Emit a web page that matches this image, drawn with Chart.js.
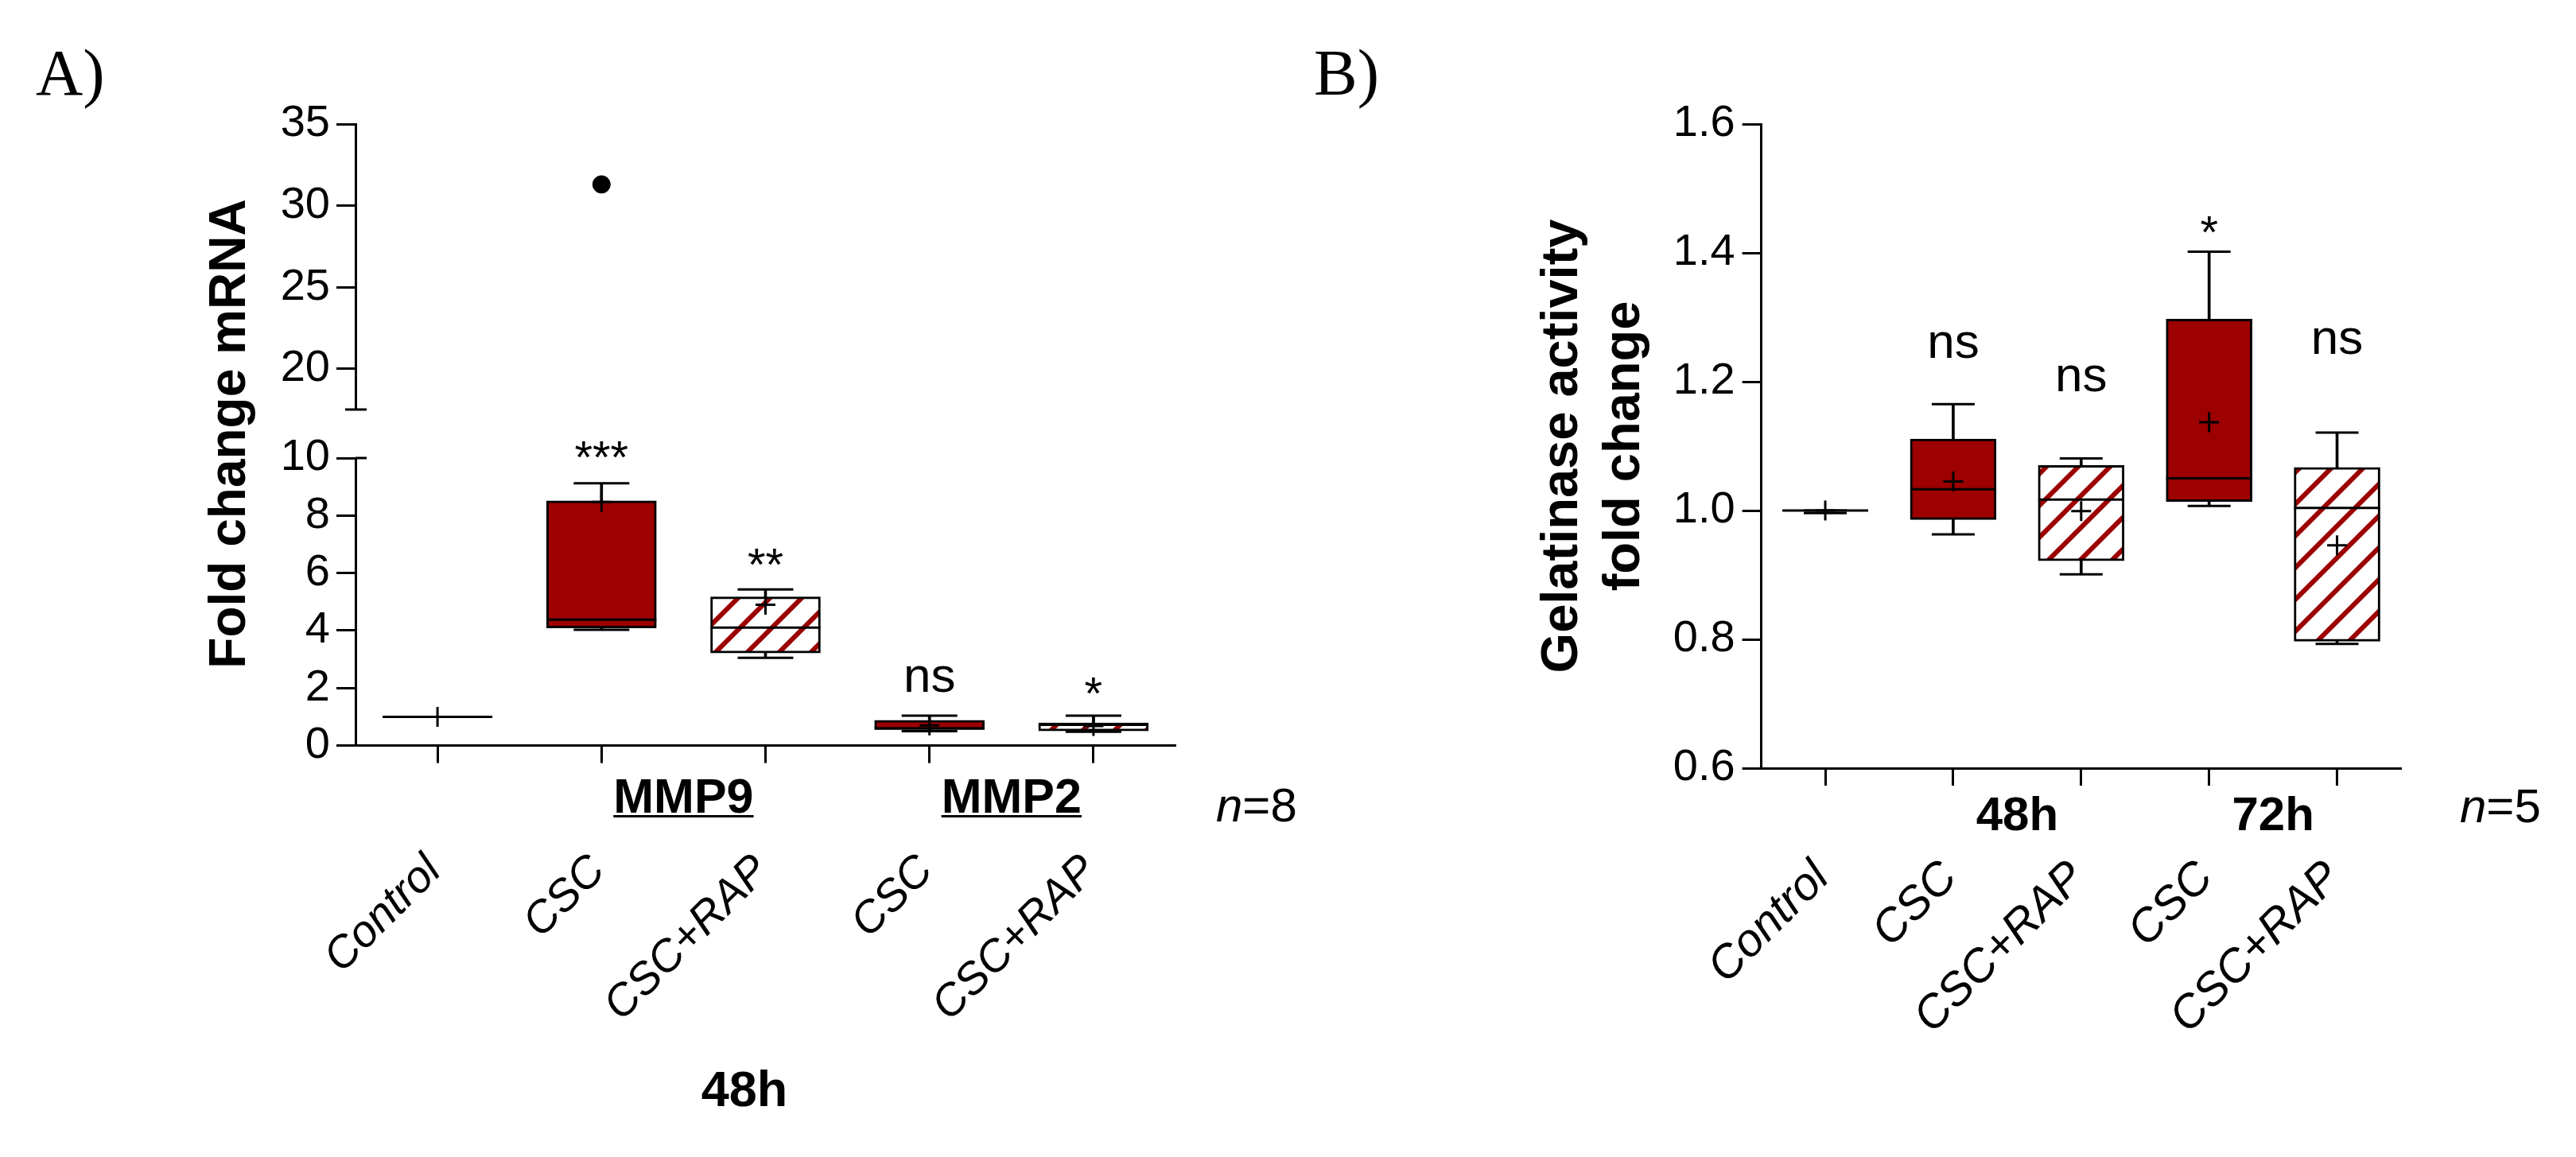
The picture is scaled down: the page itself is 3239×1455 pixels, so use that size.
<!DOCTYPE html>
<html>
<head>
<meta charset="utf-8">
<title>MMP9 / MMP2 expression and gelatinase activity</title>
<script src="https://cdn.jsdelivr.net/npm/chart.js@4.4.1/dist/chart.umd.min.js"></script>
<style>
  html, body { margin: 0; padding: 0; background: #fff; }
  #wrap { position: relative; width: 3239px; height: 1455px; }
  canvas { position: absolute; left: 0; top: 0; }
</style>
</head>
<body>
<div id="wrap">
  <canvas id="chartA" width="3239" height="1455"></canvas>
  <canvas id="chartB" width="3239" height="1455"></canvas>
</div>
<script>
// categories (same order in both panels)
const groupsA = ['Control', 'CSC', 'CSC+RAP', 'CSC', 'CSC+RAP'];
const groupsB = ['Control', 'CSC', 'CSC+RAP', 'CSC', 'CSC+RAP'];

// Panel A - fold change mRNA (MMP9: cols 1-2, MMP2: cols 3-4), n=8
const minA  = [1, 4.03, 3.05, 0.50, 0.48];
const q1A   = [1, 4.09, 3.22, 0.56, 0.51];
const medA  = [1, 4.38, 4.10, 0.60, 0.72];
const q3A   = [1, 8.51, 5.17, 0.88, 0.79];
const maxA  = [1, 9.12, 5.43, 1.04, 1.04];
const meanA = [1, 8.47, 4.90, 0.70, 0.68];
const outlierA = [null, 31.3, null, null, null];
const sigA  = ['', '***', '**', 'ns', '*'];
const sigAy = [null, 9.47, 5.74, 1.87, 1.26];
const lowTicksA = [0, 2, 4, 6, 8, 10];
const topTicksA = [20, 25, 30, 35];

// Panel B - gelatinase activity fold change (48h: cols 1-2, 72h: cols 3-4), n=5
const minB  = [0.996, 0.963, 0.901, 1.007, 0.793];
const q1B   = [1.0, 0.986, 0.922, 1.014, 0.797];
const medB  = [1.0, 1.033, 1.017, 1.050, 1.004];
const q3B   = [1.0, 1.111, 1.070, 1.297, 1.067];
const maxB  = [1.0, 1.165, 1.081, 1.402, 1.121];
const meanB = [1.0, 1.045, 0.999, 1.137, 0.946];
const sigB  = ['', 'ns', 'ns', '*', 'ns'];
const sigBy = [null, 1.237, 1.185, 1.407, 1.243];

const SANS = "'Liberation Sans', Arial, sans-serif";
const SERIF = "'Liberation Serif', 'Times New Roman', serif";
const RED = '#9c0000';

function hatch(canvasId) {
  const c = document.createElement('canvas');
  c.width = 40; c.height = 40;
  const g = c.getContext('2d');
  g.fillStyle = '#fff';
  g.fillRect(0, 0, 40, 40);
  g.strokeStyle = RED;
  g.lineWidth = 6;
  g.beginPath();
  g.moveTo(-5, 5); g.lineTo(5, -5);
  g.moveTo(0, 40); g.lineTo(40, 0);
  g.moveTo(35, 45); g.lineTo(45, 35);
  g.stroke();
  return document.getElementById(canvasId).getContext('2d').createPattern(c, 'repeat');
}

function pointSet(data, r, style, yID, order) {
  return {
    type: 'line', data, yAxisID: yID, showLine: false,
    pointStyle: style, pointRadius: r, pointBorderWidth: 3,
    pointBorderColor: '#000', pointBackgroundColor: '#000', order
  };
}

// box + whiskers built from floating bars, median / caps / mean from point styles
function boxSets(lo, q1, med, q3, hi, mean, fills, boxW, capW, yID) {
  return [
    { type: 'bar', data: lo.map((v, i) => [v, hi[i]]), yAxisID: yID,
      backgroundColor: '#000', borderWidth: 0, barThickness: 3, grouped: false, order: 4 },
    { type: 'bar', data: q1.map((v, i) => [v, q3[i]]), yAxisID: yID,
      backgroundColor: fills, borderColor: '#000', borderWidth: 3, borderSkipped: false,
      barThickness: boxW, grouped: false, order: 3 },
    pointSet(med, boxW / 2, 'line', yID, 2),
    pointSet(lo, capW / 2, 'line', yID, 2),
    pointSet(hi, capW / 2, 'line', yID, 2),
    pointSet(mean, 12.5, 'cross', yID, 1)
  ];
}

function xAxis(size, pad, height) {
  return {
    type: 'category', offset: true,
    grid: { display: true, drawOnChartArea: false, offset: false, tickLength: 22, tickWidth: 3, tickColor: '#000' },
    border: { display: true, color: '#000', width: 3 },
    ticks: { autoSkip: false, minRotation: 45, maxRotation: 45, labelOffset: -4, padding: pad,
      color: '#000', font: { family: SANS, size: size, style: 'italic' } },
    afterFit(s) { s.height = height; }
  };
}

function yStyle(width) {
  return {
    grid: { display: true, drawOnChartArea: false, tickLength: 24, tickWidth: 3, tickColor: '#000' },
    border: { display: true, color: '#000', width: 3 },
    afterFit(s) { s.width = width; }
  };
}

function text(ctx, s, x, y, font, align) {
  ctx.font = font;
  ctx.textAlign = align || 'center';
  ctx.textBaseline = 'alphabetic';
  ctx.fillText(s, x, y);
}

function underlined(ctx, s, x, y, font) {
  text(ctx, s, x, y, font, 'center');
  const w = ctx.measureText(s).width;
  ctx.fillRect(x - w / 2, y + 3, w, 3);
}

function nLabel(ctx, n, x, y) {
  ctx.font = 'italic 60px ' + SANS;
  ctx.textAlign = 'left';
  ctx.fillText('n', x, y);
  const w = ctx.measureText('n').width;
  ctx.font = '60px ' + SANS;
  ctx.fillText('=' + n, x + w, y);
}

function sigLabels(ctx, xs, ys, labels, levels) {
  labels.forEach((s, i) => {
    if (!s) return;
    const font = s === 'ns' ? '62px ' + SANS : '58px ' + SANS;
    text(ctx, s, xs.getPixelForValue(i), ys.getPixelForValue(levels[i]), font, 'center');
  });
}

const notesA = {
  id: 'notesA',
  afterDraw(chart) {
    const { ctx, scales, chartArea } = chart;
    const x = scales.x;
    ctx.save();
    ctx.fillStyle = '#000';
    ctx.strokeStyle = '#000';
    // marks of the broken axis
    ctx.lineWidth = 3;
    ctx.beginPath();
    ctx.moveTo(chartArea.left - 13, scales.yTop.bottom);
    ctx.lineTo(chartArea.left + 14, scales.yTop.bottom);
    ctx.moveTo(chartArea.left, scales.y.top);
    ctx.lineTo(chartArea.left + 14, scales.y.top);
    ctx.stroke();
    sigLabels(ctx, x, scales.y, sigA, sigAy);
    const bold = 'bold 61px ' + SANS;
    underlined(ctx, 'MMP9', (x.getPixelForValue(1) + x.getPixelForValue(2)) / 2, 1022, bold);
    underlined(ctx, 'MMP2', (x.getPixelForValue(3) + x.getPixelForValue(4)) / 2, 1022, bold);
    text(ctx, '48h', 936, 1391, 'bold 63px ' + SANS, 'center');
    nLabel(ctx, 8, 1529, 1033);
    text(ctx, 'A)', 45, 119, '82px ' + SERIF, 'left');
    ctx.restore();
  }
};

const notesB = {
  id: 'notesB',
  afterDraw(chart) {
    const { ctx, scales } = chart;
    const x = scales.x;
    ctx.save();
    ctx.fillStyle = '#000';
    sigLabels(ctx, x, scales.y, sigB, sigBy);
    const bold = 'bold 60px ' + SANS;
    text(ctx, '48h', (x.getPixelForValue(1) + x.getPixelForValue(2)) / 2, 1044, bold, 'center');
    text(ctx, '72h', (x.getPixelForValue(3) + x.getPixelForValue(4)) / 2, 1044, bold, 'center');
    nLabel(ctx, 5, 3093, 1034);
    text(ctx, 'B)', 1652, 119, '82px ' + SERIF, 'left');
    ctx.restore();
  }
};

const common = {
  responsive: false,
  animation: false,
  devicePixelRatio: 1,
  events: [],
  plugins: { legend: { display: false }, tooltip: { enabled: false } }
};

// Panel A
const hatchA = hatch('chartA');
const fillsA = [RED, RED, hatchA, RED, hatchA];
const tickFont = { family: SANS, size: 56 };

new Chart(document.getElementById('chartA'), {
  type: 'bar',
  data: {
    labels: groupsA,
    datasets: boxSets(minA, q1A, medA, q3A, maxA, meanA, fillsA, 138, 70, 'y').concat([
      { type: 'line', data: outlierA, yAxisID: 'yTop', showLine: false, pointStyle: 'circle',
        pointRadius: 11, pointBackgroundColor: '#000', pointBorderColor: '#000', order: 0 }
    ])
  },
  options: Object.assign({}, common, {
    layout: { padding: { left: 0, right: 1761, top: 156, bottom: 17.4 } },
    scales: {
      x: xAxis(56, 103, 500),
      yTop: Object.assign(yStyle(447), {
        type: 'linear', position: 'left', stack: 'left', stackWeight: 359, weight: 3,
        min: 17.5, max: 35,
        afterBuildTicks(s) { s.ticks = topTicksA.map(v => ({ value: v })); },
        ticks: { padding: 8, color: '#000', font: tickFont, autoSkip: false }
      }),
      gap: {
        type: 'linear', position: 'left', stack: 'left', stackWeight: 61, weight: 2,
        grid: { display: false }, border: { display: false }, ticks: { display: false },
        title: { display: true, text: 'Fold change mRNA', color: '#000',
          font: { family: SANS, size: 64, weight: 'bold' }, padding: { top: 252, bottom: 0 } },
        afterFit(s) { s.width = 447; }
      },
      y: Object.assign(yStyle(447), {
        type: 'linear', position: 'left', stack: 'left', stackWeight: 361.6, weight: 1,
        min: 0, max: 10,
        afterBuildTicks(s) { s.ticks = lowTicksA.map(v => ({ value: v })); },
        ticks: { padding: 8, color: '#000', font: tickFont, autoSkip: false }
      })
    }
  }),
  plugins: [notesA]
});

// Panel B
const hatchB = hatch('chartB');
const fillsB = [RED, RED, hatchB, RED, hatchB];

new Chart(document.getElementById('chartB'), {
  type: 'bar',
  data: {
    labels: groupsB,
    datasets: boxSets(minB, q1B, medB, q3B, maxB, meanB, fillsB, 108, 54, 'y')
  },
  options: Object.assign({}, common, {
    layout: { padding: { left: 1700, right: 220, top: 156, bottom: 9 } },
    scales: {
      x: xAxis(58, 82, 480),
      y: Object.assign(yStyle(514.6), {
        type: 'linear', position: 'left', min: 0.6, max: 1.6,
        ticks: { stepSize: 0.2, padding: 9, color: '#000', font: tickFont, autoSkip: false,
          callback: v => v.toFixed(1) },
        title: { display: true, text: ['Gelatinase activity', 'fold change'], color: '#000',
          font: { family: SANS, size: 65, weight: 'bold' }, padding: { top: 226, bottom: 0 } }
      })
    }
  }),
  plugins: [notesB]
});
</script>
</body>
</html>
